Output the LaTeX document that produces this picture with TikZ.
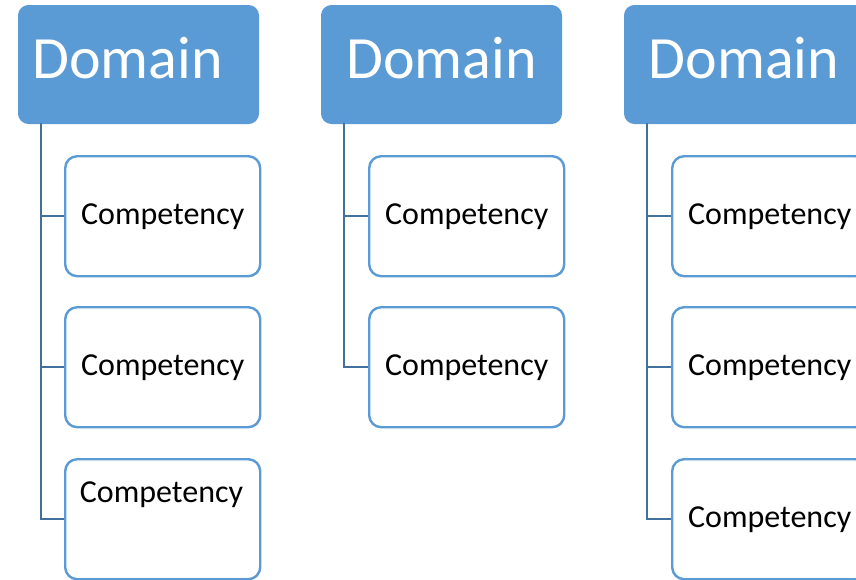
\documentclass[tikz,border=0pt]{standalone}
\usepackage{fontspec}
\setmainfont{Carlito}
\definecolor{dom}{HTML}{5B9BD5}
\definecolor{conn}{HTML}{41719C}
\tikzset{
  dombox/.style={draw=dom, fill=dom, line width=1pt, rounded corners=10pt, minimum width=240pt, minimum height=118pt, inner sep=0pt, anchor=north west},
  domtext/.style={text=white, font=\fontsize{60}{60}\selectfont, inner sep=0pt, anchor=base},
  compbox/.style={draw=dom, fill=white, line width=2.4pt, rounded corners=12pt, minimum width=195pt, minimum height=120pt, inner sep=0pt, anchor=north west, font=\fontsize{32}{32}\selectfont},
  comptext/.style={font=\fontsize{32}{32}\selectfont, inner sep=0pt, anchor=base},
  connline/.style={draw=conn, line width=2.4pt},
}
\begin{document}
\begin{tikzpicture}[x=1pt,y=-1pt]
\useasboundingbox (0,0) rectangle (856,579);
% domain boxes
\node[dombox] (d1) at (18,5) {};
\node[dombox] (d2) at (321,5) {};
\node[dombox] (d3) at (624,5) {};
\node[domtext] (t1) at (127.5,78) {Domain};
\node[domtext] (t2) at (441.5,78) {Domain};
\node[domtext] (t3) at (744,78) {Domain};
% anchor points for connectors
\coordinate (s1) at (41,123);
\coordinate (s2) at (344,123);
\coordinate (s3) at (647,123);
% competency boxes
\node[compbox] (c11) at (64,155) {Competency};
\node[compbox] (c12) at (64,306) {Competency};
\node[compbox] (c13) at (64,458) {};
\node[comptext] (c13t) at (161.5,502) {Competency};
\node[compbox] (c21) at (368,155) {Competency};
\node[compbox] (c22) at (368,306) {Competency};
\node[compbox] (c31) at (671,155) {Competency};
\node[compbox] (c32) at (671,306) {Competency};
\node[compbox] (c33) at (671,458) {Competency};
% connectors
\draw[connline] (s1) |- (c13.west);
\draw[connline] (s1 |- c11.west) -- (c11.west);
\draw[connline] (s1 |- c12.west) -- (c12.west);
\draw[connline] (s2) |- (c22.west);
\draw[connline] (s2 |- c21.west) -- (c21.west);
\draw[connline] (s3) |- (c33.west);
\draw[connline] (s3 |- c31.west) -- (c31.west);
\draw[connline] (s3 |- c32.west) -- (c32.west);
\end{tikzpicture}
\end{document}
